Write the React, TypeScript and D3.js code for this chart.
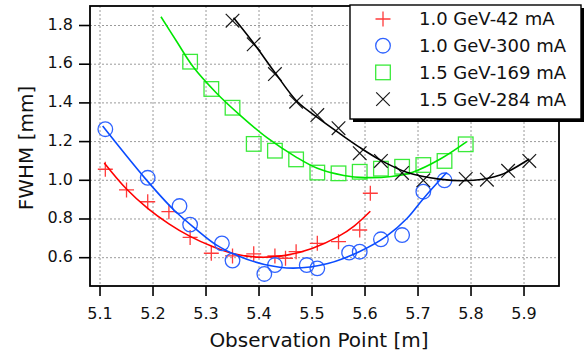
import React from 'react';
import * as d3 from 'd3';

const xTicks = [5.1, 5.2, 5.3, 5.4, 5.5, 5.6, 5.7, 5.8, 5.9];
const yTicks = [0.6, 0.8, 1.0, 1.2, 1.4, 1.6, 1.8];
const xTitle = 'Observation Point [m]';
const yTitle = 'FWHM [mm]';
const seriesNames = ['1.0 GeV-42 mA', '1.0 GeV-300 mA', '1.5 GeV-169 mA', '1.5 GeV-284 mA'];

// 1.0 GeV-42 mA
const redX = [5.11, 5.15, 5.19, 5.23, 5.27, 5.31, 5.35, 5.39, 5.43, 5.45, 5.47, 5.51, 5.55, 5.59, 5.61];
const redY = [1.057, 0.95, 0.889, 0.838, 0.705, 0.623, 0.609, 0.62, 0.609, 0.597, 0.631, 0.674, 0.683, 0.743, 0.933];
const redFitX = [5.108, 5.15, 5.19, 5.23, 5.27, 5.31, 5.35, 5.4, 5.45, 5.5, 5.55, 5.58, 5.61];
const redFitY = [1.09, 0.955, 0.855, 0.775, 0.71, 0.66, 0.622, 0.603, 0.612, 0.648, 0.71, 0.765, 0.84];

// 1.0 GeV-300 mA
const blueX = [5.11, 5.19, 5.25, 5.27, 5.33, 5.35, 5.41, 5.43, 5.49, 5.51, 5.57, 5.59, 5.63, 5.67, 5.71, 5.75];
const blueY = [1.264, 1.013, 0.867, 0.771, 0.674, 0.585, 0.516, 0.562, 0.562, 0.545, 0.626, 0.631, 0.695, 0.717, 0.941, 1.0];
const blueFitX = [5.105, 5.185, 5.24, 5.28, 5.32, 5.36, 5.41, 5.465, 5.53, 5.59, 5.64, 5.68, 5.71, 5.754];
const blueFitY = [1.28, 1.01, 0.845, 0.75, 0.665, 0.61, 0.565, 0.546, 0.57, 0.632, 0.71, 0.805, 0.905, 1.04];

// 1.5 GeV-169 mA
const greenX = [5.27, 5.31, 5.35, 5.39, 5.43, 5.47, 5.51, 5.55, 5.59, 5.63, 5.67, 5.71, 5.75, 5.79];
const greenY = [1.613, 1.472, 1.375, 1.188, 1.153, 1.108, 1.04, 1.036, 1.044, 1.06, 1.07, 1.079, 1.1, 1.186];
const greenFitX = [5.215, 5.245, 5.276, 5.32, 5.364, 5.415, 5.47, 5.51, 5.56, 5.6, 5.65, 5.69, 5.742, 5.792];
const greenFitY = [1.845, 1.716, 1.585, 1.45, 1.337, 1.22, 1.12, 1.062, 1.025, 1.014, 1.02, 1.042, 1.11, 1.2];

// 1.5 GeV-284 mA
const blackX = [5.35, 5.39, 5.43, 5.47, 5.51, 5.55, 5.59, 5.63, 5.67, 5.71, 5.79, 5.83, 5.87, 5.91];
const blackY = [1.825, 1.703, 1.549, 1.406, 1.337, 1.269, 1.14, 1.1, 1.038, 1.0, 1.007, 1.003, 1.049, 1.1];
const blackFitX = [5.352, 5.39, 5.431, 5.471, 5.51, 5.553, 5.59, 5.63, 5.68, 5.74, 5.805, 5.855, 5.91];
const blackFitY = [1.84, 1.708, 1.553, 1.41, 1.325, 1.24, 1.17, 1.103, 1.04, 1.006, 1.0, 1.027, 1.11];

const W = 585;
const H = 354;
const plot = { left: 90, right: 559, top: 6, bottom: 286 };
const FONT = '"DejaVu Sans", "Noto Sans", sans-serif';

const x = d3.scaleLinear().domain([5.0811, 5.966]).range([plot.left, plot.right]);
const y = d3.scaleLinear().domain([0.4537, 1.9008]).range([plot.bottom, plot.top]);

type Kind = 'plus' | 'circle' | 'square' | 'cross';

function Marker({ kind, cx, cy, color }: { kind: Kind; cx: number; cy: number; color: string }) {
  const s = 7.5;
  if (kind === 'plus') {
    return <path d={`M${cx - s},${cy}H${cx + s}M${cx},${cy - s}V${cy + s}`} stroke={color} strokeWidth={1.3} fill="none" />;
  }
  if (kind === 'circle') {
    return <circle cx={cx} cy={cy} r={7.3} stroke={color} strokeWidth={1.3} fill="none" />;
  }
  if (kind === 'square') {
    return <rect x={cx - 7.3} y={cy - 7.3} width={14.6} height={14.6} stroke={color} strokeWidth={1.3} fill="none" />;
  }
  const c = 6.8;
  return <path d={`M${cx - c},${cy - c}L${cx + c},${cy + c}M${cx - c},${cy + c}L${cx + c},${cy - c}`} stroke={color} strokeWidth={1.2} fill="none" />;
}

const series = [
  { name: seriesNames[0], xs: redX, ys: redY, fx: redFitX, fy: redFitY, kind: 'plus' as Kind, mColor: '#ff3b3b', lColor: '#ff0000' },
  { name: seriesNames[1], xs: blueX, ys: blueY, fx: blueFitX, fy: blueFitY, kind: 'circle' as Kind, mColor: '#2f63ff', lColor: '#0a4cff' },
  { name: seriesNames[2], xs: greenX, ys: greenY, fx: greenFitX, fy: greenFitY, kind: 'square' as Kind, mColor: '#3aea3a', lColor: '#00e600' },
  { name: seriesNames[3], xs: blackX, ys: blackY, fx: blackFitX, fy: blackFitY, kind: 'cross' as Kind, mColor: '#1a1a1a', lColor: '#000000' },
];

const line = d3
  .line<[number, number]>()
  .x((d) => x(d[0]))
  .y((d) => y(d[1]))
  .curve(d3.curveCatmullRom.alpha(0.5));

export default function App() {
  const legend = { x: 350, y: 5, w: 231, h: 114 };
  return (
    <svg
      width={W}
      height={H}
      viewBox={`0 0 ${W} ${H}`}
      style={{ position: 'absolute', left: 0, top: 0, display: 'block', background: '#fff' }}
      fontFamily={FONT}
    >
      <rect x={0} y={0} width={W} height={H} fill="#fff" />
      {/* grid */}
      <g stroke="#9a9a9a" strokeWidth={1} strokeDasharray="2,2">
        {xTicks.map((t) => (
          <line key={`gx${t}`} x1={x(t)} x2={x(t)} y1={plot.top} y2={plot.bottom} />
        ))}
        {yTicks.map((t) => (
          <line key={`gy${t}`} x1={plot.left} x2={plot.right} y1={y(t)} y2={y(t)} />
        ))}
      </g>
      {/* series */}
      {series.map((s) => (
        <g key={s.name}>
          {s.xs.map((xv, i) => (
            <Marker key={i} kind={s.kind} cx={x(xv)} cy={y(s.ys[i])} color={s.mColor} />
          ))}
          <path
            d={line(s.fx.map((fv, i) => [fv, s.fy[i]] as [number, number])) || ''}
            stroke={s.lColor}
            strokeWidth={1.6}
            fill="none"
          />
        </g>
      ))}
      {/* frame */}
      <rect
        x={plot.left}
        y={plot.top}
        width={plot.right - plot.left}
        height={plot.bottom - plot.top}
        fill="none"
        stroke="#000"
        strokeWidth={1.8}
      />
      {/* x ticks */}
      <g>
        {xTicks.map((t) => (
          <g key={`xt${t}`}>
            <line x1={x(t)} x2={x(t)} y1={plot.bottom} y2={plot.bottom + 10} stroke="#000" strokeWidth={1.6} />
            <text x={x(t)} y={319} textAnchor="middle" fontSize={16} fill="#111">
              {t.toFixed(1)}
            </text>
          </g>
        ))}
      </g>
      {/* y ticks */}
      <g>
        {yTicks.map((t) => (
          <g key={`yt${t}`}>
            <line x1={plot.left - 11} x2={plot.left} y1={y(t)} y2={y(t)} stroke="#000" strokeWidth={1.6} />
            <text x={73} y={y(t) - 1.5} dy="0.36em" textAnchor="end" fontSize={16} fill="#111">
              {t.toFixed(1)}
            </text>
          </g>
        ))}
      </g>
      <text x={319} y={347} textAnchor="middle" fontSize={20} fill="#111">
        {xTitle}
      </text>
      <text
        transform={`translate(33,148) rotate(-90)`}
        textAnchor="middle"
        fontSize={20}
        fill="#111"
      >
        {yTitle}
      </text>
      {/* legend */}
      <rect x={legend.x + 3} y={legend.y + 3} width={legend.w} height={legend.h} fill="#000" />
      <rect x={legend.x} y={legend.y} width={legend.w} height={legend.h} fill="#fff" stroke="#000" strokeWidth={1.4} />
      {series.map((s, i) => {
        const cy = 19 + i * 26.7;
        return (
          <g key={`lg${s.name}`}>
            <Marker kind={s.kind} cx={383} cy={cy} color={s.mColor} />
            <text x={419} y={cy} dy="0.36em" fontSize={18} fill="#111">
              {s.name}
            </text>
          </g>
        );
      })}
    </svg>
  );
}
